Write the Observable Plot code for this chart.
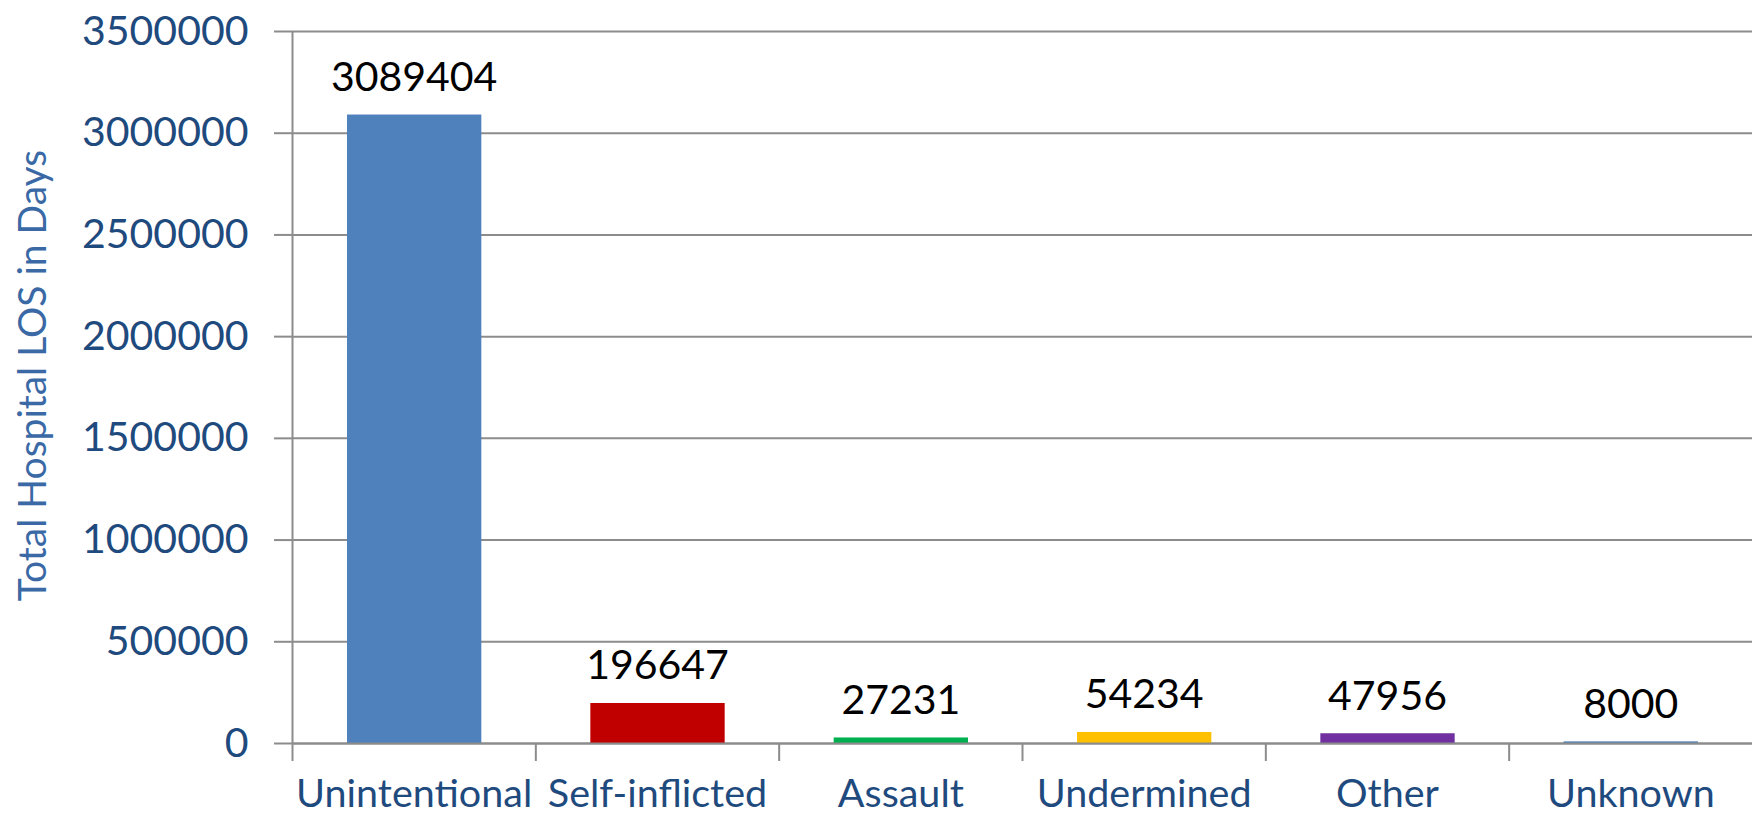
<!DOCTYPE html>
<html>
<head>
<meta charset="utf-8">
<script src="https://cdn.jsdelivr.net/npm/d3@7"></script>
<script src="https://cdn.jsdelivr.net/npm/@observablehq/plot@0.6"></script>
<style>
  html, body { margin: 0; padding: 0; background: #fff; }
  #chart svg { display: block; font-family: Lato, "Open Sans", sans-serif; }
</style>
</head>
<body>
<div id="chart"></div>
<script>
const categories = ["Unintentional", "Self-inflicted", "Assault", "Undermined", "Other", "Unknown"];
const values = [3089404, 196647, 27231, 54234, 47956, 8000];
const barColors = ["#4F81BD", "#C00000", "#00B050", "#FFC000", "#7030A0", "#4F81BD"];
const yTicks = [0, 500000, 1000000, 1500000, 2000000, 2500000, 3000000, 3500000];
const yTitle = "Total Hospital LOS in Days";

const data = categories.map((c, i) => ({c, i, v: values[i], color: barColors[i]}));
const bounds = categories.map((c, i) => i); // category boundaries (left edges)

const grid = "#8C8C8C";
const tickBlue = "#1F4A7E";

const chart = Plot.plot({
  width: 1752,
  height: 816,
  marginLeft: 292,
  marginRight: 0,
  marginTop: 31,
  marginBottom: 73,
  style: {fontFamily: "Lato, 'Open Sans', sans-serif", background: "#fff"},
  x: {type: "linear", domain: [0, categories.length], axis: null},
  y: {domain: [0, 3500000], axis: null},
  marks: [
    Plot.gridY(yTicks, {stroke: grid, strokeOpacity: 1, strokeWidth: 2}),
    Plot.axisY({ticks: yTicks, label: null, tickSize: 18, tickFormat: () => "", stroke: grid, strokeWidth: 2}),
    Plot.axisY({ticks: yTicks, label: null, tickSize: 0, tickPadding: 44, tickFormat: d3.format("d"), fill: tickBlue, fontSize: 41}),
    Plot.axisX({ticks: bounds, label: null, tickSize: 18, tickFormat: () => "", stroke: grid, strokeWidth: 2}),
    Plot.rectY(data, {x1: d => d.i, x2: d => d.i + 1, y: "v", fill: "color", insetLeft: 55, insetRight: 54}),
    Plot.ruleX([0], {stroke: grid, strokeWidth: 2}),
    Plot.ruleY([0], {stroke: grid, strokeWidth: 2}),
    Plot.text(data, {x: d => d.i + 0.5, y: "v", text: d => String(d.v), lineAnchor: "bottom", dy: -24, fontSize: 41, fill: "#000"}),
    Plot.text(data, {x: d => d.i + 0.5, text: "c", frameAnchor: "bottom", lineAnchor: "middle", dy: 51, fontSize: 39.5, fill: tickBlue}),
    Plot.text([yTitle], {text: d => d, frameAnchor: "left", rotate: -90, dx: -259, dy: -12, fontSize: 39, fill: "#3A69A5", textAnchor: "middle", lineAnchor: "middle"})
  ]
});
document.getElementById("chart").appendChild(chart);
</script>
</body>
</html>
